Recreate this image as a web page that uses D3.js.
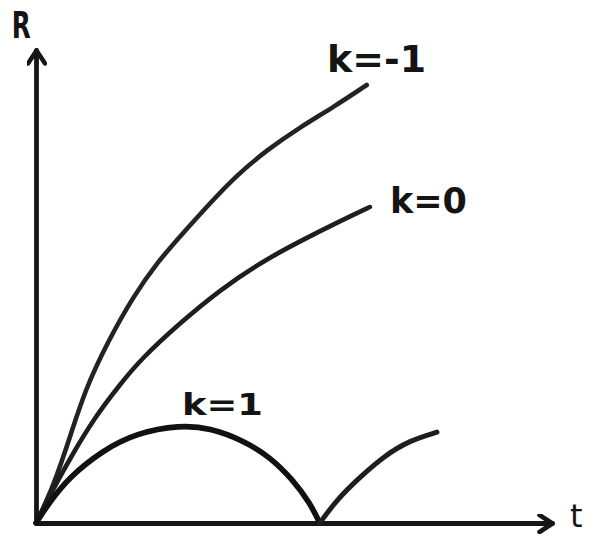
<!DOCTYPE html>
<html>
<head>
<meta charset="utf-8">
<script src="https://cdn.jsdelivr.net/npm/d3@7"></script>
<style>
  html, body { margin: 0; padding: 0; background: #ffffff; }
  svg { display: block; }
  .lbl { font-family: "DejaVu Sans", sans-serif; font-weight: bold; fill: #141414; }
</style>
</head>
<body>
<svg id="chart" width="596" height="537"></svg>
<script>
// Scale factor R(t) for the three curvature cases (t, R in arbitrary units)
const openT   = [0, 0.17, 0.39, 0.66, 0.95, 1.38, 1.88, 2.34, 2.85, 3.43, 3.90, 4.48, 5.12, 5.76, 6.41];
const openR   = [0, 0.38, 0.95, 1.82, 2.81, 3.81, 4.78, 5.50, 6.13, 6.83, 7.36, 7.89, 8.37, 8.79, 9.26];

const flatT   = [0, 0.27, 0.64, 1.14, 1.63, 2.02, 2.79, 3.57, 4.34, 5.12, 5.89, 6.47];
const flatR   = [0, 0.59, 1.33, 2.24, 2.93, 3.45, 4.23, 4.93, 5.50, 5.96, 6.38, 6.68];

const closedT = [0, 0.25, 0.64, 1.30, 1.94, 2.79, 3.37, 4.01, 4.53, 4.98, 5.31, 5.50];
const closedR = [0, 0.42, 0.97, 1.54, 1.90, 2.07, 2.01, 1.75, 1.40, 0.91, 0.42, 0];

const reboundT = [5.50, 5.83, 6.22, 6.72, 7.25, 7.77];
const reboundR = [0, 0.49, 0.91, 1.40, 1.75, 1.92];

const curveLabels = ["k=-1", "k=0", "k=1"];
const axisLabels  = ["t", "R"];

const svg = d3.select("#chart");
const ink = "#161616";

const x = d3.scaleLinear().domain([0, 10]).range([36, 552]);
const y = d3.scaleLinear().domain([0, 10]).range([523, 50]);

// open chevron arrowheads for the axes
const defs = svg.append("defs");
defs.append("marker")
  .attr("id", "arrow")
  .attr("viewBox", "-16 -10 20 20")
  .attr("refX", 0).attr("refY", 0)
  .attr("markerWidth", 20).attr("markerHeight", 20)
  .attr("markerUnits", "userSpaceOnUse")
  .attr("orient", "auto")
  .append("path")
  .attr("d", "M-13,-8.5 L0,0 L-13,8.5")
  .attr("fill", "none")
  .attr("stroke", ink)
  .attr("stroke-width", 4.5)
  .attr("stroke-linecap", "round")
  .attr("stroke-linejoin", "round");

// axes: bare lines with arrowheads, no ticks
const xAxis = svg.append("g")
  .attr("transform", `translate(0,${y(0)})`)
  .call(d3.axisBottom(x).tickValues([]).tickSizeOuter(0));
const yAxis = svg.append("g")
  .attr("transform", `translate(${x(0)},0)`)
  .call(d3.axisLeft(y).tickValues([]).tickSizeOuter(0));

[xAxis, yAxis].forEach(g => {
  g.select(".domain")
    .attr("stroke", ink)
    .attr("stroke-width", 4.8)
    .attr("stroke-linecap", "round")
    .attr("marker-end", "url(#arrow)");
});

const line = d3.line()
  .x(d => x(d[0]))
  .y(d => y(d[1]))
  .curve(d3.curveBasis);

const zip = (a, b) => a.map((v, i) => [v, b[i]]);

const series = [
  { pts: zip(openT, openR),       w: 4.6, c: "#232323" },
  { pts: zip(flatT, flatR),       w: 4.6, c: "#1e1e1e" },
  { pts: zip(closedT, closedR),   w: 5.6, c: "#111111" },
  { pts: zip(reboundT, reboundR), w: 5.0, c: "#1e1e1e" }
];

svg.append("g")
  .selectAll("path")
  .data(series)
  .join("path")
  .attr("d", d => line(d.pts))
  .attr("fill", "none")
  .attr("stroke", d => d.c)
  .attr("stroke-width", d => d.w)
  .attr("stroke-linecap", "round")
  .attr("stroke-linejoin", "round");

// curve labels
const labelSpots = [
  { t: 5.64, r: 9.53, size: 38, len: 99 },
  { t: 6.86, r: 6.55, size: 36, len: 77 },
  { t: 2.83, r: 2.28, size: 30, len: 81 }
];
svg.append("g")
  .selectAll("text")
  .data(curveLabels)
  .join("text")
  .attr("class", "lbl")
  .attr("x", (d, i) => x(labelSpots[i].t))
  .attr("y", (d, i) => y(labelSpots[i].r))
  .attr("font-size", (d, i) => labelSpots[i].size)
  .attr("textLength", (d, i) => labelSpots[i].len)
  .attr("lengthAdjust", "spacingAndGlyphs")
  .text(d => d);

// axis names
svg.append("text")
  .attr("x", x(10.35)).attr("y", y(-0.08))
  .attr("font-family", "DejaVu Sans, sans-serif")
  .attr("font-size", 32)
  .attr("fill", ink)
  .text(axisLabels[0]);

svg.append("text")
  .attr("class", "lbl")
  .attr("x", x(-0.47)).attr("y", y(10.25))
  .attr("font-size", 37)
  .attr("textLength", 19)
  .attr("lengthAdjust", "spacingAndGlyphs")
  .text(axisLabels[1]);
</script>
</body>
</html>
